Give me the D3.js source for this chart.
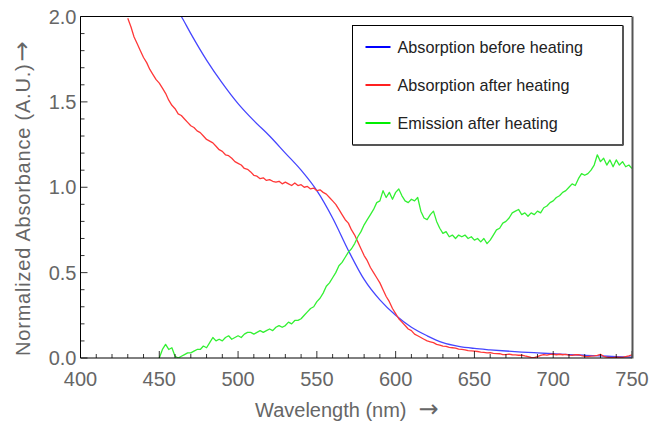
<!DOCTYPE html>
<html lang="en">
<head>
<meta charset="UTF-8">
<title>Absorbance and emission spectra</title>
<script src="https://d3js.org/d3.v7.min.js"></script>
<style>
  body { margin: 0; background: #fff; }
  text { font-family: "Liberation Sans", Arial, sans-serif; }
</style>
</head>
<body>
<script>
  // wavelengths (nm) and normalized values
  const blueWl = [460, 464, 470, 480, 490, 500, 510, 520, 530, 540, 550, 560, 570, 580, 590, 600, 610, 620, 630, 640, 650, 660, 670, 680, 690, 700, 710, 720, 730, 740, 750];
  const blueVal = [2.06, 2.0, 1.9, 1.745, 1.61, 1.49, 1.39, 1.30, 1.20, 1.10, 0.98, 0.82, 0.63, 0.46, 0.34, 0.25, 0.18, 0.13, 0.09, 0.068, 0.056, 0.048, 0.041, 0.035, 0.03, 0.025, 0.02, 0.016, 0.012, 0.008, 0.005];

  const redWl = d3.range(430, 751, 2);
  const redVal = [
    1.99, 1.94, 1.88, 1.84, 1.80, 1.76, 1.73, 1.69, 1.66, 1.63,
    1.61, 1.58, 1.55, 1.51, 1.48, 1.46, 1.43, 1.42, 1.40, 1.38,
    1.36, 1.35, 1.33, 1.32, 1.30, 1.28, 1.27, 1.26, 1.24, 1.22,
    1.21, 1.19, 1.185, 1.17, 1.15, 1.14, 1.13, 1.11, 1.105, 1.09,
    1.07, 1.065, 1.05, 1.055, 1.04, 1.045, 1.035, 1.03, 1.035, 1.02,
    1.03, 1.02, 1.01, 1.025, 1.01, 1.015, 1.0, 1.005, 0.99, 0.995,
    0.98, 0.985, 0.97, 0.96, 0.94, 0.92, 0.90, 0.87, 0.84, 0.81,
    0.79, 0.75, 0.72, 0.68, 0.64, 0.60, 0.57, 0.53, 0.50, 0.47,
    0.44, 0.40, 0.36, 0.33, 0.29, 0.26, 0.23, 0.21, 0.19, 0.17,
    0.16, 0.14, 0.13, 0.12, 0.11, 0.10, 0.095, 0.09, 0.08, 0.075,
    0.07, 0.068, 0.062, 0.06, 0.058, 0.052, 0.05, 0.048, 0.043, 0.042,
    0.04, 0.038, 0.035, 0.033, 0.03, 0.031, 0.027, 0.026, 0.025, 0.02,
    0.02, 0.023, 0.019, 0.018, 0.016, 0.017, 0.012, 0.008, 0.004, 0.002,
    0.008, 0.015, 0.02, 0.017, 0.021, 0.022, 0.019, 0.022, 0.019, 0.021,
    0.017, 0.015, 0.019, 0.02, 0.014, 0.01, 0.008, 0.011, 0.013, 0.016,
    0.021, 0.01, 0.005, 0.003, 0.002, 0.005, 0.003, 0.004, 0.008, 0.012,
    0.018
  ];

  const greenWl = d3.range(450, 751, 2);
  const greenVal = [
    0.00, 0.05, 0.08, 0.05, 0.06, 0.01, 0.00, 0.01, 0.02, 0.03,
    0.03, 0.04, 0.05, 0.05, 0.07, 0.06, 0.09, 0.12, 0.10, 0.11,
    0.10, 0.12, 0.13, 0.11, 0.12, 0.13, 0.12, 0.14, 0.15, 0.15,
    0.14, 0.15, 0.16, 0.15, 0.16, 0.17, 0.16, 0.18, 0.19, 0.18,
    0.19, 0.21, 0.20, 0.22, 0.22, 0.23, 0.25, 0.27, 0.29, 0.30,
    0.33, 0.35, 0.38, 0.42, 0.44, 0.47, 0.50, 0.54, 0.56, 0.59,
    0.62, 0.64, 0.67, 0.71, 0.74, 0.78, 0.81, 0.84, 0.87, 0.91,
    0.92, 0.98, 0.94, 0.97, 0.93, 0.97, 0.99, 0.95, 0.92, 0.91,
    0.93, 0.92, 0.94, 0.86, 0.82, 0.81, 0.84, 0.86, 0.80, 0.76,
    0.73, 0.74, 0.71, 0.72, 0.70, 0.72, 0.71, 0.72, 0.70, 0.71,
    0.69, 0.70, 0.68, 0.70, 0.67, 0.69, 0.72, 0.75, 0.76, 0.79,
    0.80, 0.82, 0.85, 0.86, 0.87, 0.84, 0.85, 0.83, 0.85, 0.84,
    0.86, 0.85, 0.88, 0.89, 0.91, 0.92, 0.94, 0.95, 0.97, 0.98,
    1.00, 1.02, 1.01, 1.05, 1.08, 1.07, 1.08, 1.10, 1.13, 1.19,
    1.15, 1.17, 1.13, 1.16, 1.12, 1.16, 1.13, 1.15, 1.12, 1.13,
    1.11
  ];

  const series = [
    {name: 'Absorption before heating', wl: blueWl, val: blueVal, color: '#4646ff', legend: '#0000ff', smooth: true},
    {name: 'Absorption after heating', wl: redWl, val: redVal, color: '#ff3838', legend: '#ff2020', smooth: false},
    {name: 'Emission after heating', wl: greenWl, val: greenVal, color: '#33f033', legend: '#00ee00', smooth: false}
  ];

  const xTicks = [400, 450, 500, 550, 600, 650, 700, 750];
  const yTicks = [0.0, 0.5, 1.0, 1.5, 2.0];

  const width = 651, height = 423;
  const margin = {top: 16.5, right: 19, bottom: 65, left: 80.5};
  const iw = width - margin.left - margin.right;
  const ih = height - margin.top - margin.bottom;

  const svg = d3.select('body').append('svg')
    .attr('width', width)
    .attr('height', height);

  const x = d3.scaleLinear().domain([400, 750]).range([0, iw]);
  const y = d3.scaleLinear().domain([0, 2]).range([ih, 0]);

  const g = svg.append('g')
    .attr('transform', `translate(${margin.left},${margin.top})`);

  svg.append('clipPath').attr('id', 'clip')
    .append('rect').attr('width', iw).attr('height', ih);

  // lines
  series.forEach(s => {
    const line = d3.line()
      .x((d, i) => x(s.wl[i]))
      .y(d => y(d))
      .curve(s.smooth ? d3.curveMonotoneX : d3.curveLinear);
    g.append('path')
      .attr('clip-path', 'url(#clip)')
      .attr('d', line(s.val))
      .attr('fill', 'none')
      .attr('stroke', s.color)
      .attr('stroke-width', 1.3)
      .attr('stroke-linejoin', 'round');
  });

  // minor + major ticks, pointing inward
  const tickCol = '#000';
  d3.range(400, 751, 10).forEach(v => {
    const major = v % 50 === 0;
    g.append('line')
      .attr('x1', x(v)).attr('x2', x(v))
      .attr('y1', ih).attr('y2', ih - (major ? 7 : 4))
      .attr('stroke', tickCol).attr('stroke-width', 0.8);
  });
  d3.range(0, 21, 1).forEach(k => {
    const v = k / 10;
    const major = k % 5 === 0;
    g.append('line')
      .attr('x1', 0).attr('x2', major ? 7 : 4)
      .attr('y1', y(v)).attr('y2', y(v))
      .attr('stroke', tickCol).attr('stroke-width', 0.8);
  });

  // frame
  g.append('line').attr('x1', 0).attr('x2', iw).attr('y1', 0).attr('y2', 0).attr('stroke', '#000');
  g.append('line').attr('x1', 0).attr('x2', 0).attr('y1', 0).attr('y2', ih).attr('stroke', '#000');
  g.append('line').attr('x1', 0).attr('x2', iw).attr('y1', ih).attr('y2', ih).attr('stroke', '#000');
  g.append('line').attr('x1', iw + 0.5).attr('x2', iw + 0.5).attr('y1', 0).attr('y2', ih + 0.5).attr('stroke', '#555').attr('stroke-width', 2);

  // tick labels
  g.selectAll('.xl').data(xTicks).join('text')
    .attr('x', d => x(d))
    .attr('y', ih + 28)
    .attr('text-anchor', 'middle')
    .attr('font-size', 20)
    .attr('fill', '#666')
    .text(d => d);
  g.selectAll('.yl').data(yTicks).join('text')
    .attr('x', -4)
    .attr('y', d => y(d) + 7)
    .attr('text-anchor', 'end')
    .attr('font-size', 20)
    .attr('fill', '#666')
    .text(d => d.toFixed(1));

  // axis titles
  const xt = svg.append('text')
    .attr('x', 255)
    .attr('y', 417)
    .attr('font-size', 20)
    .attr('fill', '#666');
  xt.append('tspan').text('Wavelength (nm)');
  xt.append('tspan').attr('dx', 12).attr('font-size', 24).attr('font-family', 'DejaVu Sans').text('\u2192');

  const yt = svg.append('text')
    .attr('transform', 'translate(30,356) rotate(-90)')
    .attr('font-size', 20)
    .attr('letter-spacing', 0.8)
    .attr('fill', '#666');
  yt.append('tspan').text('Normalized Absorbance (A.U.)');
  yt.append('tspan').attr('dx', 2).attr('font-size', 24).attr('font-family', 'DejaVu Sans').text('\u2192');

  // legend
  const lg = svg.append('g').attr('transform', 'translate(352.5,25.5)');
  const lw = 270, lh = 119;
  lg.append('rect').attr('width', lw).attr('height', lh).attr('fill', '#fff').attr('stroke', '#000');
  lg.append('line').attr('x1', lw + 0.5).attr('x2', lw + 0.5).attr('y1', 0).attr('y2', lh + 0.5).attr('stroke', '#555').attr('stroke-width', 2);
  lg.append('line').attr('x1', 0).attr('x2', lw + 1).attr('y1', lh + 0.5).attr('y2', lh + 0.5).attr('stroke', '#555').attr('stroke-width', 2);
  series.forEach((s, i) => {
    const yy = 21.5 + i * 38;
    lg.append('line')
      .attr('x1', 13).attr('x2', 38)
      .attr('y1', yy).attr('y2', yy)
      .attr('stroke', s.legend).attr('stroke-width', 2);
    lg.append('text')
      .attr('x', 45).attr('y', yy + 6)
      .attr('font-size', 16.2)
      .attr('fill', '#222')
      .text(s.name);
  });
</script>
</body>
</html>
